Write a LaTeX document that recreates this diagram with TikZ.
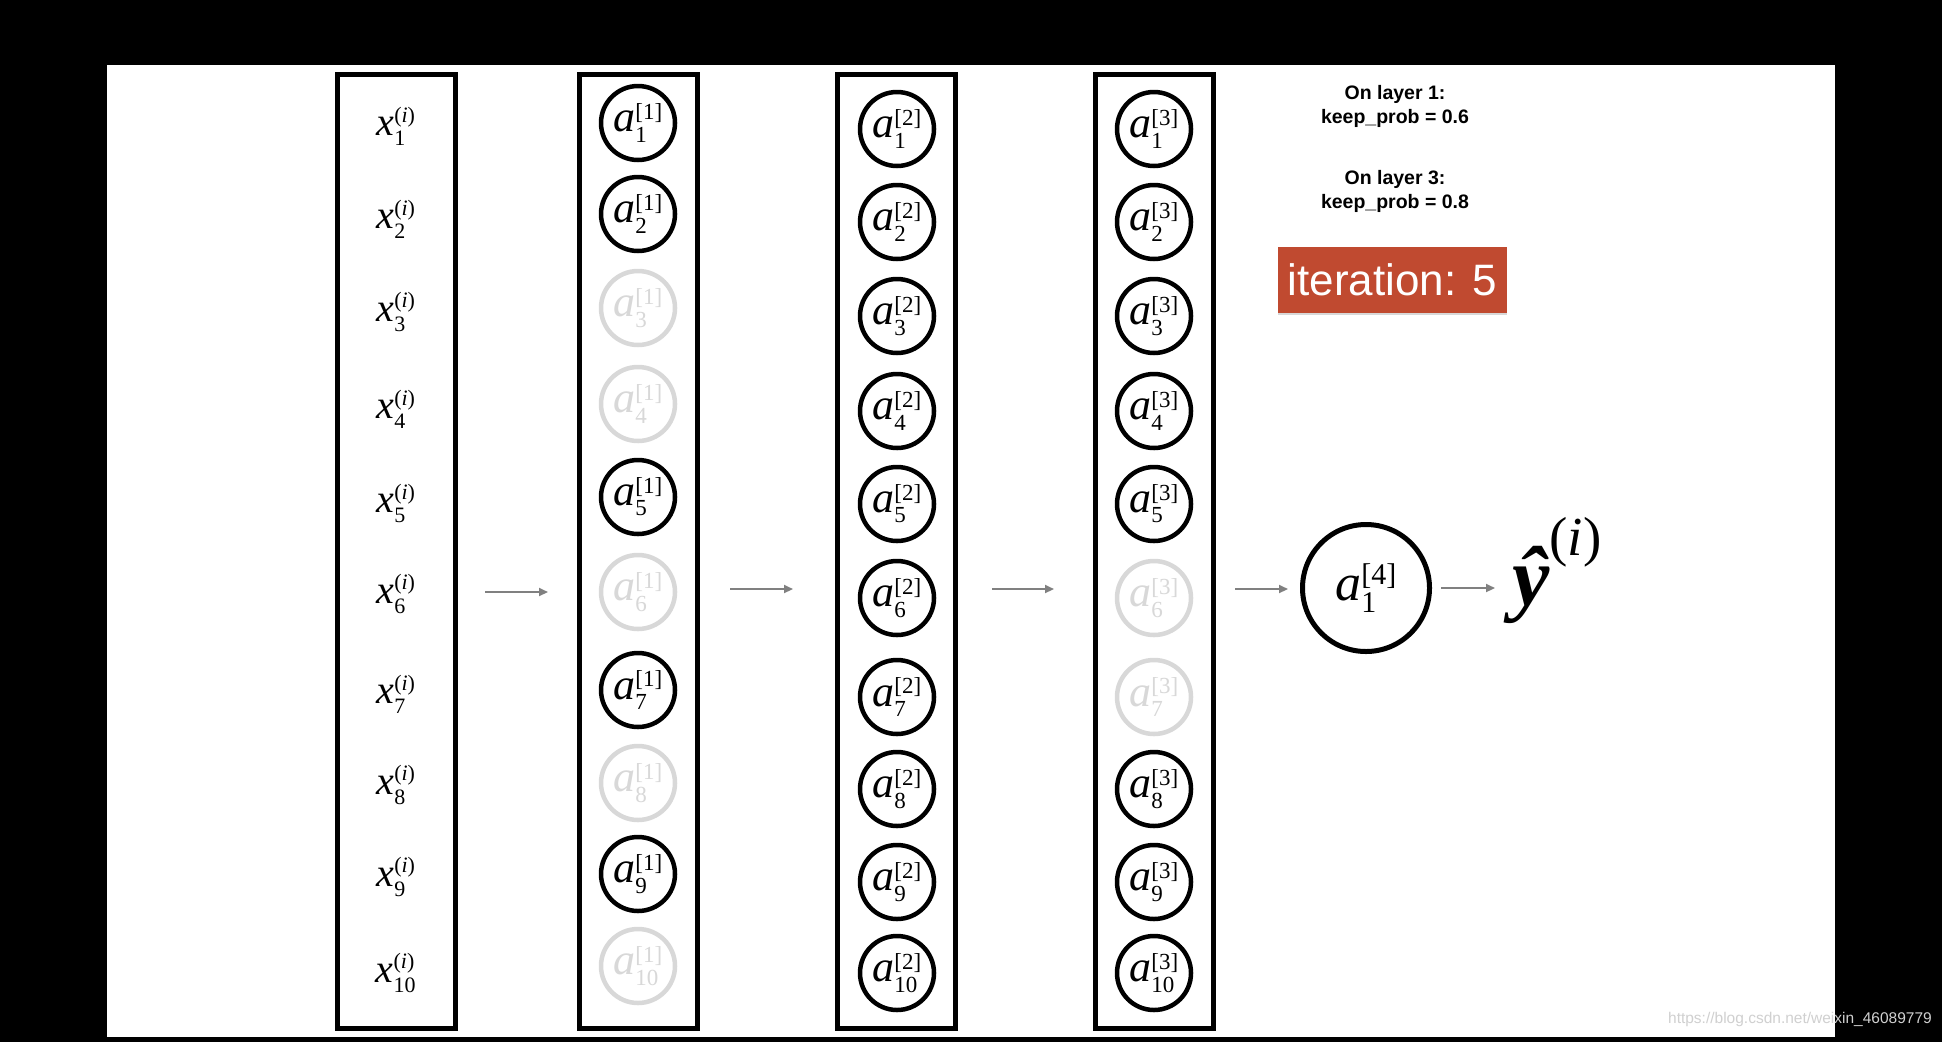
\documentclass[tikz,border=0pt]{standalone}
\usepackage{amsmath}
\usepackage{fontspec}
\setmainfont{Liberation Serif}
\newfontfamily\sansf{Liberation Sans}
\DeclareMathSizes{40}{40}{22}{16}
\DeclareMathSizes{44}{44}{23}{16}
\DeclareMathSizes{52}{52}{30}{22}
\DeclareMathSizes{84}{84}{55}{40}
\usetikzlibrary{arrows.meta,shadows}
\definecolor{dropgray}{RGB}{216,216,216}
\definecolor{arrowgray}{RGB}{128,128,128}
\definecolor{iterred}{RGB}{192,74,48}
\definecolor{wmgray}{RGB}{208,208,208}
\newcommand{\xl}[1]{$\textit{x}^{\text{\raisebox{2pt}{(\textit{i})}}}_{\text{\raisebox{-2pt}{#1}}}$}
\newcommand{\al}[2]{$\textit{a}^{\text{\raisebox{1pt}{[#2]}}}_{\text{\raisebox{-1pt}{#1}}}$}
\begin{document}
\begin{tikzpicture}[x=1pt,y=-1pt,
  layerbox/.style={draw=black, line width=5pt, minimum width=118pt, minimum height=954pt, inner sep=0pt},
  unit/.style={circle, draw=black, line width=4.5pt, minimum size=74pt, inner sep=0pt, font=\fontsize{44}{44}\selectfont},
  dropped/.style={unit, draw=dropgray, text=dropgray},
  xin/.style={inner sep=0pt, font=\fontsize{40}{40}\selectfont},
  arr/.style={draw=arrowgray, line width=2pt, -{Triangle[length=9pt,width=8pt]}},
  note/.style={align=center, inner sep=0pt, font=\sansf\bfseries\fontsize{19.5}{24}\selectfont}
]
\useasboundingbox (0,0) rectangle (1942,1042);
\fill[black] (0,0) rectangle (1942,1042);
\fill[white] (107,65) rectangle (1835,1037);

% layer boxes
\node[layerbox] (L0) at (396.5,551.5) {};
\node[layerbox] (L1) at (638,551.5) {};
\node[layerbox] (L2) at (896,551.5) {};
\node[layerbox] (L3) at (1154,551.5) {};

% inputs
\foreach \i/\y in {1/126,2/219,3/312,4/409,5/503,6/594,7/694,8/785,9/877,10/973}
  \node[xin] (x\i) at (396,\y) {\xl{\i}};

% layer 1
\foreach \i/\y/\s in {1/123/unit,2/214/unit,3/308/dropped,4/404/dropped,5/497/unit,6/592/dropped,7/690/unit,8/783/dropped,9/874/unit,10/966/dropped}
  \node[\s] (h1\i) at (638,\y) {\al{\i}{1}};

% layer 2
\foreach \i/\y in {1/129,2/222,3/316,4/411,5/504,6/598,7/697,8/789,9/882,10/973}
  \node[unit] (h2\i) at (897,\y) {\al{\i}{2}};

% layer 3
\foreach \i/\y/\s in {1/129/unit,2/222/unit,3/316/unit,4/411/unit,5/504/unit,6/598/dropped,7/697/dropped,8/789/unit,9/882/unit,10/973/unit}
  \node[\s] (h3\i) at (1154,\y) {\al{\i}{3}};

% output unit
\node[circle, draw=black, line width=5pt, minimum size=127pt, inner sep=0pt, font=\fontsize{52}{52}\selectfont] (out) at (1366,588) {\al{1}{4}};
\node[anchor=base west, inner sep=0pt, font=\fontsize{84}{84}\selectfont] (yhat) at (1512,605) {$\text{\bfseries\itshape\^{y}}^{\text{(\textit{i})}}$};

% arrows
\coordinate (a1s) at (485,592); \coordinate (a1e) at (548,592);
\coordinate (a2s) at (730,589); \coordinate (a2e) at (793,589);
\coordinate (a3s) at (992,589); \coordinate (a3e) at (1054,589);
\coordinate (a4s) at (1235,589);
\coordinate (a5e) at (1495,588);
\draw[arr] (a1s) -- (a1e);
\draw[arr] (a2s) -- (a2e);
\draw[arr] (a3s) -- (a3e);
\draw[arr, shorten >=12pt] (a4s) -- (out.west |- a4s);
\draw[arr, shorten <=9pt] (out.east |- a5e) -- (a5e);

% notes
\node[note] (n1) at (1395,106) {On layer 1:\\keep\_prob = 0.6};
\node[note] (n3) at (1395,191) {On layer 3:\\keep\_prob = 0.8};
\node[fill=iterred, text=white, minimum width=229pt, minimum height=66pt, inner sep=0pt,
      drop shadow={shadow xshift=0pt, shadow yshift=-2pt, opacity=0.3},
      font=\sansf\fontsize{44}{44}\selectfont] (iter) at (1392.5,280) {iteration: 5};

% watermark
\node[anchor=base east, inner sep=0pt, text=wmgray, font=\sansf\fontsize{15.5}{16}\selectfont] (wm) at (1932,1023) {https://blog.csdn.net/weixin\_46089779};
\end{tikzpicture}
\end{document}
